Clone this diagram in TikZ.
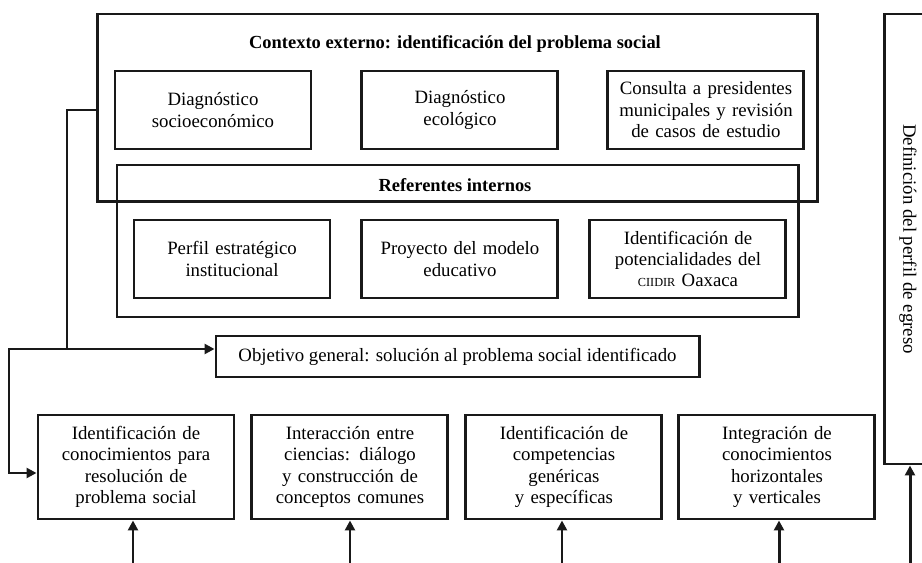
\documentclass[tikz,border=0pt]{standalone}
\usepackage{fontspec}
\setmainfont{Liberation Serif}
\usepackage{tikz}
\usetikzlibrary{arrows.meta,positioning}

\begin{document}
\begin{tikzpicture}[
    >={Triangle[length=0.2cm,width=0.2cm]},
    line width=1.7pt,
    font=\fontsize{10.7}{12.2}\selectfont,
    marco/.style={
		rectangle,
		draw=black!90,
		line width=1.7pt,
		inner sep=0pt
	},
    caja/.style={
		rectangle,
		draw=black!90,
		line width=1.7pt,
		text centered,
		text width=3.85cm,
		minimum width=3.92cm,
		minimum height=1.56cm,
		inner sep=0pt
	},
    titulo/.style={
		font=\fontsize{10.5}{12}\selectfont\bfseries
	},
    flecha/.style={
		draw=black!90,
		line width=1.7pt,
		->
	}
  ]
  \useasboundingbox (0,0) rectangle (18.44,-11.26);
  \clip (0,0) rectangle (18.44,-11.26);

    % Contexto externo
  \node [marco, minimum width=14.39cm, minimum height=3.75cm] (contexto) at (9.145,-2.155) {};
  \node [titulo] (tcontexto) at (9.1,-0.88) {Contexto externo: identificación del problema social};

  \node [caja] (diag1) at (4.26,-2.2) {Diagnóstico\\ socioeconómico};
  \node [caja, right=0.96cm of diag1] (diag2) {Diagnóstico\\ ecológico};
  \node [caja, right=0.94cm of diag2] (consulta) {Consulta a presidentes\\ municipales y revisión\\ de casos de estudio};

    % Referentes internos
  \node [marco, minimum width=13.62cm, minimum height=3.04cm] (referentes) at (9.15,-4.82) {};
  \node [titulo] (treferentes) at (9.1,-3.7) {Referentes internos};

  \node [caja] (perfil) at (4.64,-5.18) {Perfil estratégico\\ institucional};
  \node [caja, right=0.58cm of perfil] (proyecto) {Proyecto del modelo\\ educativo};
  \node [caja, right=0.58cm of proyecto] (potencial) {Identificación de\\ potencialidades del\\ {\scriptsize CIIDIR} Oaxaca};

    % Objetivo
  \node [marco, minimum width=9.66cm, minimum height=0.82cm] (objetivo) at (9.15,-7.13) {Objetivo general: solución al problema social identificado};

    % Fila inferior
  \node [caja, minimum height=2.08cm] (conoc) at (2.72,-9.34) {Identificación de\\ conocimientos para\\ resolución de\\ problema social};
  \node [caja, minimum height=2.08cm, right=0.3cm of conoc] (ciencias) {Interacción entre\\ ciencias: diálogo\\ y construcción de\\ conceptos comunes};
  \node [caja, minimum height=2.08cm, right=0.3cm of ciencias] (compet) {Identificación de\\ competencias\\ genéricas\\ y específicas};
  \node [caja, minimum height=2.08cm, right=0.28cm of compet] (integra) {Integración de\\ conocimientos\\ horizontales\\ y verticales};

    % Perfil de egreso
  \node [marco, minimum width=0.94cm, minimum height=9cm] (egreso) at (18.16,-4.78) {};
  \node [rotate=-90] (tegreso) at (egreso.center) {Definición del perfil de egreso};

    % Conectores
  \coordinate (nodo) at (1.34,-6.98);
  \coordinate (esquina) at (0.18,-6.98);
  \coordinate (e1) at (2.66,-11.3);
  \coordinate (e2) at (7.0,-11.3);
  \coordinate (e3) at (11.24,-11.3);
  \coordinate (e4) at (15.58,-11.3);
  \coordinate (e5) at (18.2,-11.3);

  \draw [draw=black!90] (contexto.west |- 0,-2.2) -| (nodo);
  \draw [flecha] (nodo) -- (nodo -| objetivo.west);
  \draw [flecha] (nodo) -- (esquina) |- ([yshift=-0.12cm]conoc.west);

  \draw [flecha] (e1) -- (e1 |- conoc.south);
  \draw [flecha] (e2) -- (e2 |- ciencias.south);
  \draw [flecha] (e3) -- (e3 |- compet.south);
  \draw [flecha] (e4) -- (e4 |- integra.south);
  \draw [flecha] (e5) -- (e5 |- egreso.south);

\end{tikzpicture}
\end{document}
